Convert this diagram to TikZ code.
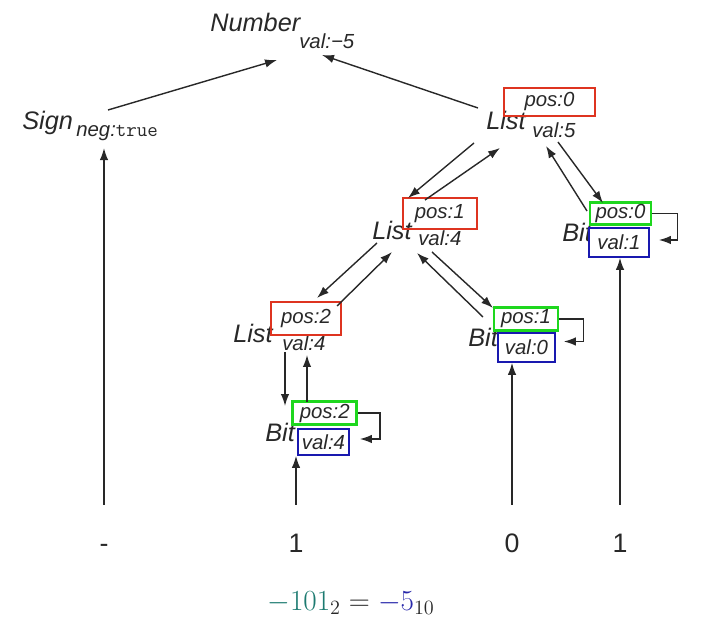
\documentclass[tikz,border=0pt]{standalone}
\usepackage{fontspec}
\newfontfamily\sansfont{Liberation Sans}
\usepackage{tikz}
\usetikzlibrary{arrows.meta,calc}
\usepackage{xcolor}
\definecolor{boxred}{RGB}{222,52,32}
\definecolor{boxgreen}{RGB}{30,215,30}
\definecolor{boxblue}{RGB}{25,25,175}
\definecolor{eqteal}{RGB}{28,122,112}
\definecolor{eqblue}{RGB}{40,40,170}
\definecolor{ink}{RGB}{40,40,40}

\begin{document}
\begin{tikzpicture}[x=0.025cm, y=-0.025cm,
  lbl/.style={font=\sansfont\itshape\fontsize{18}{21}\selectfont, inner sep=0pt, anchor=west, text=ink},
  attr/.style={font=\sansfont\itshape\fontsize{14.5}{17}\selectfont, inner sep=0pt, text=ink},
  redbox/.style={attr, draw=boxred, line width=1.3pt},
  greenbox/.style={attr, draw=boxgreen, line width=2.1pt, fill=white},
  bluebox/.style={attr, draw=boxblue, line width=1.2pt, fill=white},
  digit/.style={font=\sansfont\fontsize{19}{22}\selectfont, inner sep=0pt, anchor=base, text height=14pt, text=ink},
  link/.style={draw=ink, line width=1pt, -{Latex[length=8.5pt,width=6pt]}}
]
\useasboundingbox (0,0) rectangle (706,636);

% root
\node[lbl] (number) at (210,22) {Number};
\node[attr, anchor=west] (numval) at (299,41) {val:−5};

% sign
\node[lbl] (sign) at (22,123) {Sign};
\node[attr, anchor=west] (signval) at (76,133) {neg:{\ttfamily\upshape true}};

% lists
\node[lbl] (list0) at (486,120) {List};
\node[attr, anchor=west] (list0val) at (532,130) {val:5};
\node[redbox, minimum width=64.7pt, minimum height=19.9pt] (list0pos) at (549.5,102) {pos:0};

\node[lbl] (list1) at (372,230) {List};
\node[attr, anchor=west] (list1val) at (418,238) {val:4};
\node[redbox, minimum width=52.6pt, minimum height=22pt] (list1pos) at (439.7,213.5) {pos:1};

\node[lbl] (list2) at (233,333) {List};
\node[attr, anchor=west] (list2val) at (282,343) {val:4};
\node[redbox, minimum width=49.8pt, minimum height=23.5pt] (list2pos) at (306,318.5) {pos:2};

% bits
\node[lbl] (bit0) at (562,232) {Bit};
\node[greenbox, minimum width=43.4pt, minimum height=15pt] (bit0pos) at (620.5,213.5) {pos:0};
\node[bluebox, minimum width=42.7pt, minimum height=20.6pt] (bit0val) at (619,242.5) {val:1};

\node[lbl] (bit1) at (468,337) {Bit};
\node[greenbox, minimum width=45.5pt, minimum height=17pt] (bit1pos) at (526,319) {pos:1};
\node[bluebox, minimum width=40.5pt, minimum height=20.6pt] (bit1val) at (526.5,347.5) {val:0};

\node[lbl] (bit2) at (265,432) {Bit};
\node[greenbox, minimum width=45.5pt, minimum height=17pt] (bit2pos) at (324.7,413) {pos:2};
\node[bluebox, minimum width=36.3pt, minimum height=18.5pt] (bit2val) at (323.5,442) {val:4};

% input digits
\node[digit] (dsign) at (104,553) {-};
\node[digit] (d2) at (296,553) {1};
\node[digit] (d1) at (512,553) {0};
\node[digit] (d0) at (620,553) {1};

\node[font=\fontsize{21.5}{25}\selectfont, text=ink] (eq) at (351,603)
  {${\color{eqteal}-101}_2 = {\color{eqblue}-5}_{10}$};

% up to the root
\draw[link] ($(sign.west)+(86,-13)$) -- ($(number.west)+(67,38)$);
\draw[link] ($(list0.west)+(-8,-12)$) -- ($(number.west)+(112,33)$);

% list0 <-> list1, bit0
\draw[link] ($(list0.west)+(-12,23)$) -- ($(list1.west)+(36,-32)$);
\draw[link] ($(list1.west)+(53,-30)$) -- ($(list0.west)+(14,28)$);
\draw[link] ($(list0.west)+(72,22)$) -- ($(bit0.west)+(41,-29)$);
\draw[link] ($(bit0.west)+(25,-21)$) -- ($(list0.west)+(60,26)$);

% list1 <-> list2, bit1
\draw[link] ($(list1.west)+(5,13)$) -- ($(list2.west)+(84,-35)$);
\draw[link] ($(list2.west)+(104,-27)$) -- ($(list1.west)+(20,22)$);
\draw[link] ($(list1.west)+(60,22)$) -- ($(bit1.west)+(25,-29)$);
\draw[link] ($(bit1.west)+(15,-20)$) -- ($(list1.west)+(45,23)$);

% list2 <-> bit2
\draw[link] ($(list2.west)+(52,19)$) -- ($(bit2.west)+(20,-26)$);
\draw[link] ($(bit2.west)+(42,-30)$) -- ($(list2.west)+(74,22)$);

% pos -> val loops
\draw[link] (bit0pos.east) -- ++(25,0) |- ($(bit0val.east)+(9,-2.5)$);
\draw[link] (bit1pos.east) -- ++(24,0) |- ($(bit1val.east)+(8,-6)$);
\draw[link] (bit2pos.east) -- ++(22,0) |- ($(bit2val.east)+(10,-3)$);

% leaves
\draw[link, shorten <=20pt, shorten >=5pt] (dsign.north) -- (dsign.north |- signval.south);
\draw[link, shorten <=20pt] (d2.north) -- (d2.north |- bit2val.south);
\draw[link, shorten <=20pt] (d1.north) -- (d1.north |- bit1val.south);
\draw[link, shorten <=20pt] (d0.north) -- (d0.north |- bit0val.south);

\end{tikzpicture}
\end{document}
